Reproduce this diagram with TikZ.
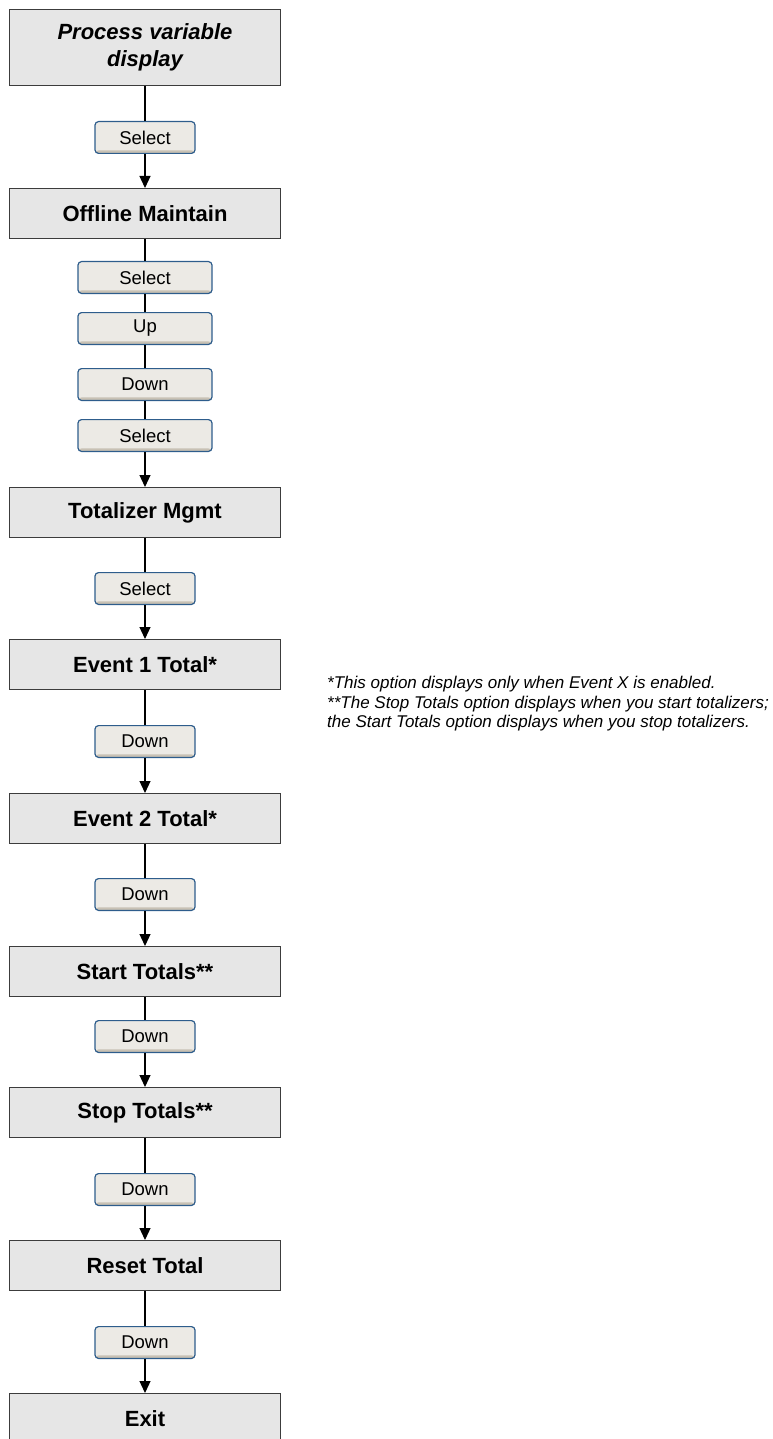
\documentclass[tikz,border=0pt]{standalone}
\usepackage{fontspec}
\setmainfont{Liberation Sans}
\usetikzlibrary{arrows.meta,positioning}
\definecolor{boxgray}{HTML}{E6E6E6}
\definecolor{boxline}{HTML}{3C3C3C}
\definecolor{keyfill}{HTML}{ECEAE5}
\definecolor{keyline}{HTML}{2E5D8C}
\definecolor{keyshade}{HTML}{C8C1B4}

\begin{document}
\begin{tikzpicture}[
  x=1pt, y=1pt,
  menubox/.style={draw=boxline, line width=1.3pt, fill=boxgray,
    minimum width=270.7pt, minimum height=49.7pt, inner sep=2pt,
    font=\fontsize{22}{27}\selectfont\bfseries, align=center},
  keybox/.style={draw=keyline, line width=1.2pt, fill=keyfill, rounded corners=3.5pt,
    minimum width=#1, minimum height=31.8pt, inner sep=0pt,
    font=\fontsize{18.5}{22}\selectfont,
    path picture={\fill[keyshade] (path picture bounding box.south west)
      rectangle ([yshift=3pt]path picture bounding box.south east);}},
  keybox/.default=100pt,
  link/.style={line width=1.2pt, draw=black},
  arrow/.style={link, -{Triangle[length=12pt, width=11pt]}},
  note/.style={font=\fontsize{17}{19.5}\selectfont\itshape, align=left, inner sep=0pt}
]
  \useasboundingbox (0,0) rectangle (772,-1439);

  \node[menubox, minimum height=75.7pt, font=\fontsize{22}{27}\selectfont\bfseries\itshape]
    (pv) at (145,-47.5) {Process variable\\display};
  \node[keybox, below=35pt of pv] (k1) {Select};
  \node[menubox, below=34pt of k1] (om) {Offline Maintain};
  \node[keybox=134pt, below=22pt of om] (k2) {Select};
  \node[keybox=134pt, below=18pt of k2] (k3) {Up};
  \node[keybox=134pt, below=23pt of k3] (k4) {Down};
  \node[keybox=134pt, below=18pt of k4] (k5) {Select};
  \node[menubox, below=35pt of k5] (tm) {Totalizer Mgmt};
  \node[keybox, below=34pt of tm] (k6) {Select};
  \node[menubox, below=34pt of k6] (e1) {Event 1 Total*};
  \node[keybox, below=35pt of e1] (k7) {Down};
  \node[menubox, below=35pt of k7] (e2) {Event 2 Total*};
  \node[keybox, below=34pt of e2] (k8) {Down};
  \node[menubox, below=35pt of k8] (st) {Start Totals**};
  \node[keybox, below=23pt of st] (k9) {Down};
  \node[menubox, below=34pt of k9] (sp) {Stop Totals**};
  \node[keybox, below=35pt of sp] (k10) {Down};
  \node[menubox, below=34pt of k10] (rt) {Reset Total};
  \node[keybox, below=35pt of rt] (k11) {Down};
  \node[menubox, below=34pt of k11] (ex) {Exit};

  \draw[link] (pv) -- (k1);
  \draw[arrow] (k1) -- (om);
  \draw[link] (om) -- (k2);
  \draw[link] (k2) -- (k3);
  \draw[link] (k3) -- (k4);
  \draw[link] (k4) -- (k5);
  \draw[arrow] (k5) -- (tm);
  \draw[link] (tm) -- (k6);
  \draw[arrow] (k6) -- (e1);
  \draw[link] (e1) -- (k7);
  \draw[arrow] (k7) -- (e2);
  \draw[link] (e2) -- (k8);
  \draw[arrow] (k8) -- (st);
  \draw[link] (st) -- (k9);
  \draw[arrow] (k9) -- (sp);
  \draw[link] (sp) -- (k10);
  \draw[arrow] (k10) -- (rt);
  \draw[link] (rt) -- (k11);
  \draw[arrow] (k11) -- (ex);

  % footnotes for the starred entries
  \node[note, anchor=west] (fn) at (327,-704)
    {*This option displays only when Event X is enabled.\\
     **The Stop Totals option displays when you start totalizers;\\
     the Start Totals option displays when you stop totalizers.};
\end{tikzpicture}
\end{document}
